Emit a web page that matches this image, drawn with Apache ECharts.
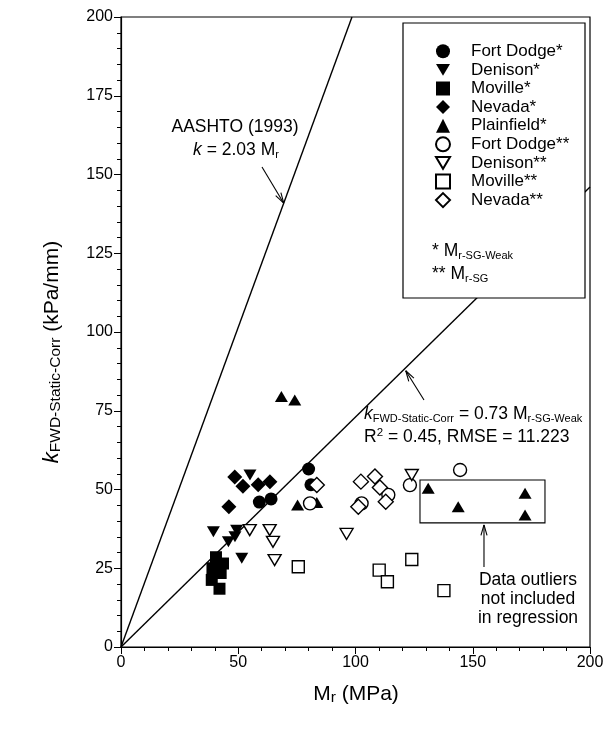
<!DOCTYPE html>
<html>
<head>
<meta charset="utf-8">
<script src="https://cdn.jsdelivr.net/npm/echarts/dist/echarts.min.js"></script>
<style>
  html, body { margin: 0; padding: 0; background: #fff; }
  #chart { width: 608px; height: 743px; }
</style>
</head>
<body>
<div id="chart"></div>
<script>
// values (Mr in MPa, k in kPa/mm)
const fortDodgeWeak = [[59, 46], [64, 47], [80, 56.5], [81, 51.5]]
const denisonWeak = [[55, 54.6], [39.4, 36.6], [49.3, 37.1], [45.8, 33.4], [48.6, 35], [51.5, 28.2]]
const movilleWeak = [[40.5, 28.5], [43.5, 26.5], [39, 25], [42.5, 23.5], [38.7, 21.3], [42, 18.5]]
const nevadaWeak = [[48.5, 54], [52, 51], [58.5, 51.5], [63.5, 52.5], [46, 44.5]]
const plainfieldWeak = [[68.4, 79.5], [74.1, 78.4], [75.3, 45.1], [83.5, 45.9], [131, 50.4], [143.8, 44.5], [172.3, 48.8], [172.3, 41.9]]
const fortDodgeSG = [[80.6, 45.6], [102.6, 45.6], [114, 48.3], [123.2, 51.4], [144.6, 56.2]]
const denisonSG = [[54.9, 37.1], [63.4, 37.1], [64.8, 33.4], [65.5, 27.6], [96.2, 35.9], [124, 54.6]]
const movilleSG = [[75.6, 25.5], [110.1, 24.4], [113.6, 20.7], [124, 27.8], [137.7, 17.9]]
const nevadaSG = [[83.5, 51.4], [101.2, 44.5], [102.3, 52.5], [108.3, 54.1], [110.4, 50.6], [112.9, 46.1]]

// reference lines k = 2.03 Mr and k = 0.73 Mr
const aashtoLine = [[0, 0], [98.5, 200]]
const regLine = [[0, 0], [200, 146]]

// outlier box corners
const outlierBox = [[127.5, 53], [180.8, 39.4]]

const xTicks = [0, 200, 50]
const yTicks = [0, 200, 25]

const FONT = 'Liberation Sans, Arial, sans-serif'
const DOWN = 'path://M0,0L12,0L6,10Z'

function scatter (name, data, symbol, size, filled, rotate) {
  return {
    name: name,
    type: 'scatter',
    data: data,
    symbol: symbol,
    symbolSize: size,
    symbolRotate: rotate || 0,
    silent: true,
    itemStyle: {
      color: filled ? '#000' : '#fff',
      borderColor: '#000',
      borderWidth: filled ? 0 : 1.4,
      opacity: 1
    },
    z: filled ? 3 : 4
  }
}

function refLine (data) {
  return {
    type: 'line',
    data: data,
    showSymbol: false,
    silent: true,
    lineStyle: { color: '#000', width: 1.4 },
    z: 2
  }
}

const series = [
  scatter('Fort Dodge*', fortDodgeWeak, 'circle', 13, true),
  scatter('Denison*', denisonWeak, 'triangle', [13, 11], true, 180),
  scatter('Moville*', movilleWeak, 'rect', 12, true),
  scatter('Nevada*', nevadaWeak, 'diamond', 15, true),
  scatter('Plainfield*', plainfieldWeak, 'triangle', [13, 11], true),
  scatter('Fort Dodge**', fortDodgeSG, 'circle', 13, false),
  scatter('Denison**', denisonSG, 'triangle', [13, 11], false, 180),
  scatter('Moville**', movilleSG, 'rect', 12, false),
  scatter('Nevada**', nevadaSG, 'diamond', 15, false),
  refLine(aashtoLine),
  refLine(regLine)
]

const chart = echarts.init(document.getElementById('chart'))

function axis (ticks, minorSplit) {
  return {
    type: 'value',
    min: ticks[0],
    max: ticks[1],
    interval: ticks[2],
    axisLine: { lineStyle: { color: '#000', width: 1.2 } },
    axisTick: { show: true, length: 7, lineStyle: { color: '#000' } },
    minorTick: { show: true, splitNumber: minorSplit, length: 4, lineStyle: { color: '#000' } },
    splitLine: { show: false },
    axisLabel: { color: '#000', fontSize: 16, fontFamily: FONT, margin: 8 }
  }
}

const rich = {
  t: { fontSize: 17.5, fontFamily: FONT, color: '#000', lineHeight: 20 },
  i: { fontSize: 17.5, fontFamily: FONT, color: '#000', fontStyle: 'italic', lineHeight: 20 },
  sub: { fontSize: 11, fontFamily: FONT, color: '#000', verticalAlign: 'bottom', lineHeight: 12, padding: [4, 0, 0, 0] },
  sup: { fontSize: 11.5, fontFamily: FONT, color: '#000', verticalAlign: 'top', lineHeight: 12 }
}

chart.setOption({
  animation: false,
  textStyle: { fontFamily: FONT },
  grid: { left: 121, right: 18, top: 17, bottom: 96, show: true, borderColor: '#000', borderWidth: 1.2 },
  xAxis: axis(xTicks, 5),
  yAxis: axis(yTicks, 5),
  legend: {
    orient: 'vertical',
    left: 435,
    top: 42.8,
    padding: 0,
    itemWidth: 14,
    itemHeight: 14,
    itemGap: 1.6,
    selectedMode: false,
    z: 20,
    textStyle: { fontSize: 17, color: '#000', fontFamily: FONT, padding: [0, 0, 0, 16] },
    data: [
      'Fort Dodge*',
      { name: 'Denison*', icon: DOWN },
      'Moville*',
      'Nevada*',
      'Plainfield*',
      'Fort Dodge**',
      { name: 'Denison**', icon: DOWN },
      'Moville**',
      'Nevada**'
    ]
  },
  series: series
})

function arrow (x1, y1, x2, y2) {
  const a = Math.atan2(y2 - y1, x2 - x1)
  const len = 11
  const spread = 0.28
  const st = { stroke: '#000', lineWidth: 1.1 }
  return [
    { type: 'line', shape: { x1: x1, y1: y1, x2: x2, y2: y2 }, style: st, z: 30 },
    { type: 'line', shape: { x1: x2, y1: y2, x2: x2 - len * Math.cos(a - spread), y2: y2 - len * Math.sin(a - spread) }, style: st, z: 30 },
    { type: 'line', shape: { x1: x2, y1: y2, x2: x2 - len * Math.cos(a + spread), y2: y2 - len * Math.sin(a + spread) }, style: st, z: 30 }
  ]
}

function label (x, y, text, align, richSet) {
  return {
    type: 'text', x: x, y: y, z: 30,
    style: { text: text, rich: richSet || rich, align: align || 'left', verticalAlign: 'middle', fill: '#000' }
  }
}

const p1 = chart.convertToPixel({ gridIndex: 0 }, outlierBox[0])
const p2 = chart.convertToPixel({ gridIndex: 0 }, outlierBox[1])
// where the arrows meet the lines
const regTip = chart.convertToPixel({ gridIndex: 0 }, [121, 121 * 0.73])
const aashtoTip = chart.convertToPixel({ gridIndex: 0 }, [69.4, 69.4 * 2.03])

const titleRich = {
  y: { fontSize: 21, fontFamily: FONT, color: '#000', lineHeight: 24 },
  yi: { fontSize: 22, fontFamily: FONT, color: '#000', fontStyle: 'italic', lineHeight: 24 },
  ys: { fontSize: 15.5, fontFamily: FONT, color: '#000', verticalAlign: 'bottom', lineHeight: 15, padding: [6, 0, 0, 0] }
}

const graphics = [
  // legend frame, white so that it hides the line behind it
  { type: 'rect', shape: { x: 403, y: 23, width: 182, height: 275 }, style: { fill: '#fff', stroke: '#000', lineWidth: 1.2 }, z: 10 },
  label(432, 251, '{t|* M}{sub|r-SG-Weak}'),
  label(432, 274, '{t|** M}{sub|r-SG}'),
  // outlier box
  { type: 'rect', shape: { x: p1[0], y: p1[1], width: p2[0] - p1[0], height: p2[1] - p1[1] }, style: { fill: 'none', stroke: '#000', lineWidth: 1.1 }, z: 5 },
  label(528, 580, '{t|Data outliers}', 'center'),
  label(528, 599, '{t|not included}', 'center'),
  label(528, 618, '{t|in regression}', 'center'),
  ...arrow(p1[0] + 64, 567, p1[0] + 64, p2[1] + 2),
  // AASHTO note
  label(235, 127, '{t|AASHTO (1993)}', 'center'),
  label(236, 150, '{i|k}{t| = 2.03 M}{sub|r}', 'center'),
  ...arrow(262, 167, aashtoTip[0], aashtoTip[1]),
  // regression note
  label(364, 414, '{i|k}{sub|FWD-Static-Corr}{t| = 0.73 M}{sub|r-SG-Weak}'),
  label(364, 437, '{t|R}{sup|2}{t| = 0.45, RMSE = 11.223}'),
  ...arrow(424, 400, regTip[0] + 1, regTip[1] + 2),
  // axis titles
  label(356, 694, '{y|M}{ys|r}{y| (MPa)}', 'center', titleRich),
  {
    type: 'text', x: 52, y: 352, rotation: Math.PI / 2, z: 30,
    style: {
      text: '{yi|k}{ys|FWD-Static-Corr}{y| (kPa/mm)}',
      align: 'center',
      verticalAlign: 'middle',
      rich: titleRich
    }
  }
]

chart.setOption({ graphic: graphics })
</script>
</body>
</html>
